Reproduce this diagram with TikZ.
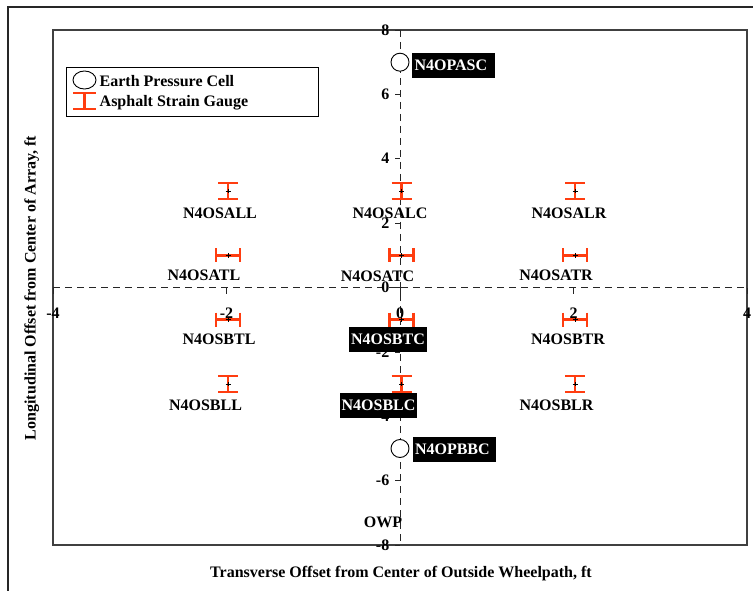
\documentclass[tikz,border=0pt]{standalone}
\usepackage{fontspec}
\usetikzlibrary{shapes.geometric}
\setmainfont{Liberation Serif}
\newcommand\figfont{\fontsize{16}{19}\selectfont\bfseries}
\definecolor{gaugered}{RGB}{255,61,16}
\tikzset{
  outerframe/.style={line width=1.5pt, draw=black!85},
  plotframe/.style={line width=1.4pt, draw=black!75},
  axisdash/.style={line width=0.9pt, draw=black!85, dash pattern=on 7pt off 5pt},
  tickmark/.style={line width=0.8pt, draw=black!85},
  ticklabel/.style={font=\figfont, inner sep=0pt},
  gaugelabel/.style={font=\figfont, inner sep=0pt},
  boxlabel/.style={font=\figfont, fill=black, text=white, inner xsep=2pt, inner ysep=0pt, minimum height=25pt},
  celllabel/.style={boxlabel, text width=78pt, align=left, inner xsep=2.5pt},
  gaugeline/.style={draw=gaugered, line width=2.6pt},
  centermark/.style={draw=black, line width=0.5pt},
  lgauge/.pic={
    \draw[gaugeline] (-10,-8) -- (10,-8) (0,-8) -- (0,8) (-10,8) -- (10,8);
    \draw[centermark] (-2.5,0) -- (2.5,0) (0,-2) -- (0,2);
  },
  tgauge/.pic={
    \draw[gaugeline] (-12,0) -- (12,0) (-12,-7) -- (-12,7) (12,-7) -- (12,7);
    \draw[centermark] (-2.5,0) -- (2.5,0) (0,-2.5) -- (0,2.5);
  },
  cell/.style={circle, draw=black, line width=0.9pt, fill=white, minimum size=18pt, inner sep=0pt},
}
\begin{document}
\begin{tikzpicture}[x=1pt,y=-1pt]
\useasboundingbox (0,0) rectangle (753,591);

% outer border (open on the right and bottom)
\draw[outerframe] (8,591) -- (8,7) -- (753,7);

% plot area
\draw[plotframe] (53,30) rectangle (747,545);

% dashed axes through the origin
\coordinate (ytop) at (400,30);
\coordinate (ybot) at (400,545);
\coordinate (xleft) at (53,287.5);
\coordinate (xright) at (747,287.5);
\draw[axisdash] (ytop) -- (ybot);
\draw[axisdash] (xleft) -- (xright);

% y ticks and labels
\foreach \v/\py in {8/30,6/94.4,4/158.7,2/223.1,0/287.5,-2/351.9,-4/416.3,-6/480.6,-8/545}{
  \draw[tickmark] (395,\py) -- (400,\py);
  \node[ticklabel, anchor=east] (yt\v) at (389.5,\py) {\v};
}
% x ticks and labels
\foreach \v/\px in {-4/53,-2/226.5,0/400,2/573.5,4/747}{
  \draw[tickmark] (\px,287.5) -- (\px,293.5);
  \node[ticklabel] (xt\v) at (\px,313) {\v};
}

% strain gauges
\pic at (228,190.9) {lgauge};
\pic at (401.5,190.9) {lgauge};
\pic at (575,190.9) {lgauge};
\pic at (228,255.3) {tgauge};
\pic at (401.5,255.3) {tgauge};
\pic at (575,255.3) {tgauge};
\pic at (228,319.7) {tgauge};
\pic at (401.5,319.7) {tgauge};
\pic at (575,319.7) {tgauge};
\pic at (228,384.1) {lgauge};
\pic at (401.5,384.1) {lgauge};
\pic at (575,384.1) {lgauge};

% gauge labels
\node[gaugelabel] (salL) at (220,213) {N4OSALL};
\node[gaugelabel] (salC) at (390,213) {N4OSALC};
\node[gaugelabel] (salR) at (569,213) {N4OSALR};
\node[gaugelabel] (satL) at (204,275) {N4OSATL};
\node[gaugelabel] (satC) at (377.5,276) {N4OSATC};
\node[gaugelabel] (satR) at (556,275) {N4OSATR};
\node[gaugelabel] (sbtL) at (219,339) {N4OSBTL};
\node[boxlabel]   (sbtC) at (388,339) {N4OSBTC};
\node[gaugelabel] (sbtR) at (568,339) {N4OSBTR};
\node[gaugelabel] (sblL) at (205.5,405) {N4OSBLL};
\node[boxlabel]   (sblC) at (378.5,405.5) {N4OSBLC};
\node[gaugelabel] (sblR) at (556.5,405) {N4OSBLR};

% earth pressure cells
\node[cell] (pasc) at (400,62.2) {};
\node[cell] (pbbc) at (400,448.5) {};
\node[celllabel] (pascL) at (453.5,65.5) {N4OPASC};
\node[celllabel] (pbbcL) at (454,449.5) {N4OPBBC};

\node[gaugelabel] (owp) at (383,522) {OWP};

% legend
\node[draw=black, line width=0.9pt, minimum width=252pt, minimum height=49pt, inner sep=0pt] (legend) at (192,91.5) {};
\node[ellipse, draw=black, line width=0.9pt, minimum width=23pt, minimum height=18pt, inner sep=0pt] (legcell) at (84.5,80) {};
\draw[gaugeline] (73,93) -- (96,93) (84.5,93) -- (84.5,109) (73,109) -- (96,109);
\node[font=\figfont, anchor=base west, inner sep=0pt] (legcellT) at (99.5,87) {Earth Pressure Cell};
\node[font=\figfont, anchor=base west, inner sep=0pt] (leggaugeT) at (99.5,107) {Asphalt Strain Gauge};

% axis titles
\node[font=\figfont, anchor=base, inner sep=0pt] (xtitle) at (401,577) {Transverse Offset from Center of Outside Wheelpath, ft};
\node[font=\figfont, anchor=base, inner sep=0pt, rotate=90] (ytitle) at (35.5,288) {Longitudinal Offset from Center of Array, ft};
\end{tikzpicture}
\end{document}
